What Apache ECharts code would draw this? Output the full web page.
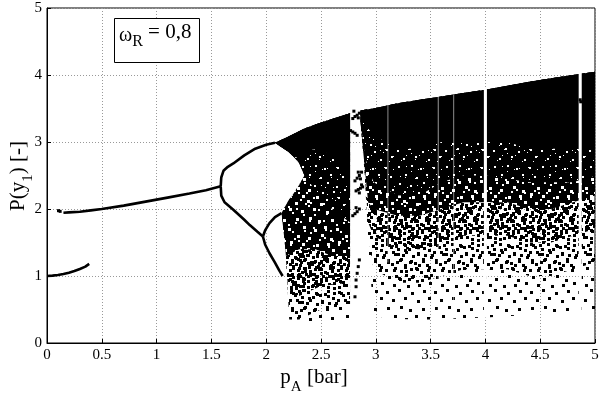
<!DOCTYPE html>
<html>
<head>
<meta charset="utf-8">
<script src="https://cdn.jsdelivr.net/npm/echarts@6/dist/echarts.min.js"></script>
<style>html,body{margin:0;padding:0;background:#fff}#c{width:602px;height:395px}</style>
</head>
<body>
<div id="c"></div>
<script>
// ---------- data ----------
const xTicks = [0, 0.5, 1, 1.5, 2, 2.5, 3, 3.5, 4, 4.5, 5];
const yTicks = [0, 1, 2, 3, 4, 5];

// period-1 branches
const period1Lower = [[0,1.0],[0.05,1.005],[0.1,1.015],[0.15,1.03],[0.2,1.05],[0.25,1.075],[0.3,1.105],[0.35,1.14],[0.385,1.18]];
const period1Upper = [[0.15,1.945],[0.2,1.95],[0.3,1.96],[0.4,1.98],[0.5,2.0],[0.7,2.05],[0.9,2.11],[1.1,2.17],[1.3,2.23],[1.45,2.28],[1.585,2.34]];
const isolatedPts = [[0.105,1.975],[0.12,1.965]];
// period-2 and period-4 branches
const period2Upper = [[1.585,2.34],[1.59,2.47],[1.61,2.57],[1.65,2.63],[1.7,2.68],[1.8,2.8],[1.9,2.9],[2.0,2.96],[2.08,2.99]];
const period2Lower = [[1.585,2.34],[1.59,2.2],[1.62,2.1],[1.7,1.99],[1.8,1.84],[1.85,1.76],[1.92,1.66],[1.97,1.59]];
const period4Upper = [[1.97,1.59],[1.99,1.68],[2.03,1.79],[2.08,1.88],[2.14,1.94]];
const period4Lower = [[1.97,1.59],[1.99,1.47],[2.03,1.34],[2.08,1.2],[2.12,1.08],[2.15,1.0]];

// chaotic region A (p 2.08 .. 2.765): outlines of density levels
const chaosA_sparse = [[2.08,2.99],[2.2,3.08],[2.35,3.2],[2.5,3.29],[2.65,3.37],[2.765,3.43],[2.765,0.3],[2.5,0.3],[2.22,0.3],[2.19,0.99],[2.17,1.49],[2.14,1.94],[2.2,2.12],[2.25,2.23],[2.3,2.36],[2.35,2.5],[2.3,2.69],[2.25,2.78],[2.2,2.86],[2.14,2.92]];
const chaosA_medium = [[2.08,2.99],[2.2,3.08],[2.35,3.2],[2.5,3.29],[2.65,3.37],[2.765,3.43],[2.765,0.55],[2.5,0.5],[2.3,0.35],[2.21,0.35],[2.19,0.99],[2.17,1.49],[2.14,1.94],[2.2,2.12],[2.25,2.23],[2.3,2.36],[2.35,2.5],[2.3,2.69],[2.25,2.78],[2.2,2.86],[2.14,2.92]];
const chaosA_mid    = [[2.08,2.99],[2.2,3.08],[2.35,3.2],[2.5,3.29],[2.65,3.37],[2.765,3.43],[2.765,0.9],[2.5,0.85],[2.3,0.7],[2.2,0.8],[2.17,1.49],[2.14,1.94],[2.2,2.12],[2.25,2.23],[2.3,2.36],[2.35,2.5],[2.3,2.69],[2.25,2.78],[2.2,2.86],[2.14,2.92]];
const chaosA_heavy  = [[2.08,2.99],[2.2,3.08],[2.35,3.2],[2.5,3.29],[2.65,3.37],[2.765,3.43],[2.765,1.3],[2.6,1.3],[2.45,1.4],[2.3,1.4],[2.18,1.3],[2.17,1.49],[2.14,1.94],[2.2,2.12],[2.25,2.23],[2.3,2.36],[2.35,2.5],[2.3,2.69],[2.25,2.78],[2.2,2.86],[2.14,2.92]];
const chaosA_speck  = [[2.08,2.99],[2.2,3.08],[2.35,3.2],[2.5,3.29],[2.65,3.37],[2.765,3.43],[2.765,1.8],[2.6,2.0],[2.45,2.25],[2.38,2.45],[2.35,2.5],[2.3,2.69],[2.25,2.78],[2.2,2.86],[2.14,2.92]];
const chaosA_solid  = [[2.08,2.99],[2.2,3.08],[2.35,3.2],[2.5,3.29],[2.65,3.37],[2.765,3.43],[2.765,2.5],[2.65,2.7],[2.5,2.9],[2.4,2.88],[2.3,2.76],[2.25,2.78],[2.2,2.86],[2.14,2.92]];

// chaotic region B (p 2.86 .. 5): envelopes of density levels
const pB      = [2.86, 2.9, 2.93, 2.98, 3.2, 3.4, 3.6, 3.8, 4.0, 4.2, 4.4, 4.6, 4.8, 5.0];
const topB    = [3.47, 3.48, 3.49, 3.5, 3.58, 3.63, 3.68, 3.73, 3.78, 3.84, 3.9, 3.95, 4.0, 4.05];
const solidB  = [3.4, 3.3, 3.2, 3.1, 2.9, 2.9, 3.0, 3.0, 3.0, 3.0, 2.9, 2.9, 2.9, 2.9];
const speckB  = [3.3, 2.8, 2.6, 2.4, 2.2, 2.2, 2.4, 2.5, 2.5, 2.45, 2.4, 2.4, 2.4, 2.5];
const heavyB  = [3.3, 2.6, 2.1, 2.0, 1.9, 1.9, 2.0, 2.1, 2.1, 2.1, 2.0, 2.0, 2.1, 2.2];
const midB    = [3.3, 2.5, 1.8, 1.6, 1.4, 1.4, 1.5, 1.6, 1.6, 1.6, 1.5, 1.5, 1.6, 1.7];
const mediumB = [3.3, 2.5, 1.6, 1.1, 0.9, 0.9, 1.0, 1.1, 1.1, 1.1, 1.0, 1.0, 1.1, 1.2];
const bottomB = [3.3, 2.5, 1.5, 0.4, 0.36, 0.35, 0.35, 0.37, 0.38, 0.4, 0.42, 0.45, 0.48, 0.5];

// periodic windows inside region B
const windowP   = [3.11, 3.57, 3.71, 4.0, 4.865];
const windowTop = [3.56, 3.67, 3.71, 3.80, 4.03];
const windowBot = [1.2, 0.35, 0.35, 0.38, 0.48];
const windowW   = [0.008, 0.01, 0.008, 0.028, 0.028];
const windowStrong = [false, false, false, true, true];

// periodic orbit points inside the window p 2.77 .. 2.9
const windowPts = [
  [2.79,3.35],[2.81,3.38],[2.83,3.40],[2.85,3.43],[2.80,3.46],[2.84,3.36],
  [2.77,3.17],[2.79,3.15],[2.81,3.13],[2.83,3.10],
  [2.81,2.42],[2.83,2.46],[2.85,2.50],[2.87,2.55],[2.84,2.55],[2.86,2.45],
  [2.82,2.27],[2.84,2.29],[2.86,2.31],[2.88,2.33],[2.85,2.24],[2.87,2.36],
  [2.79,1.90],[2.81,1.93],[2.83,1.96],[2.85,2.0],[2.82,2.02],
  [2.85,1.24],[2.84,1.14],[2.83,1.04],[2.82,0.94],[2.82,0.84],[2.81,0.69],
  [4.865,3.63],[4.87,3.6]
];

// ---------- textures (style only, fixed hand-placed dot layouts) ----------
const T = 48;
const dotsA = [[2,3],[14,1],[27,4],[39,2],[8,11],[20,9],[33,12],[44,9],[3,19],[16,18],[25,21],[38,20],[10,27],[21,30],[31,27],[43,29],[4,36],[15,38],[28,35],[37,39],[9,44],[23,45],[34,44],[45,42]];
const dotsB = [[6,6],[11,4],[19,3],[24,8],[31,6],[36,5],[45,4],[1,11],[13,13],[18,14],[28,15],[40,14],[46,16],[7,23],[12,21],[20,24],[30,22],[34,24],[42,24],[1,29],[16,30],[26,28],[36,31],[46,34],[6,41],[11,35],[19,40],[24,38],[32,40],[41,35],[2,46],[14,45],[28,44],[39,46],[44,37],[21,34]];
const shift = (list, dx, dy, s) => list.map(d => [(d[0] + dx) % T, (d[1] + dy) % T, s]);
function tile(bg, fg, dots) {
  const c = document.createElement('canvas');
  c.width = T; c.height = T;
  const g = c.getContext('2d');
  if (bg) { g.fillStyle = bg; g.fillRect(0, 0, T, T); }
  g.fillStyle = fg;
  dots.forEach(d => {
    const s = d[2] || 3;
    g.fillRect(d[0], d[1], s, s);
    g.fillRect(d[0] - T, d[1], s, s); g.fillRect(d[0], d[1] - T, s, s); g.fillRect(d[0] - T, d[1] - T, s, s);
  });
  return c;
}
const sparseTile = tile(null, '#000', dotsA);
const mediumTile = tile(null, '#000', dotsB.concat(shift(dotsA, 24, 17)));
const midTile    = tile(null, '#000', shift(dotsB, 13, 29).concat(shift(dotsA, 7, 31)).concat(shift(dotsB, 31, 9)));
const heavyTile  = tile('#000', '#fff', shift(dotsA, 5, 7).concat(shift(dotsB, 24, 24, 2)));
const speckTile  = tile('#000', '#fff', shift(dotsA, 11, 3, 2).concat(shift(dotsB, 3, 19, 1)));
const fills = {
  sparse: { image: sparseTile, repeat: 'repeat' },
  medium: { image: mediumTile, repeat: 'repeat' },
  mid:    { image: midTile,    repeat: 'repeat' },
  heavy:  { image: heavyTile,  repeat: 'repeat' },
  speck:  { image: speckTile,  repeat: 'repeat' },
  solid: '#000'
};

function band(p, lo, hi) {
  const up = p.map((x, i) => [x, hi[i]]);
  const dn = p.map((x, i) => [x, lo[i]]).reverse();
  return up.concat(dn);
}
const polys = [
  { pts: chaosA_sparse, fill: 'sparse' }, { pts: band(pB, bottomB, topB), fill: 'sparse' },
  { pts: chaosA_medium, fill: 'medium' }, { pts: band(pB, mediumB, topB), fill: 'medium' },
  { pts: chaosA_mid,    fill: 'mid'    }, { pts: band(pB, midB, topB),    fill: 'mid'    },
  { pts: chaosA_heavy,  fill: 'heavy'  }, { pts: band(pB, heavyB, topB),  fill: 'heavy'  },
  { pts: chaosA_speck,  fill: 'speck'  }, { pts: band(pB, speckB, topB),  fill: 'speck'  },
  { pts: chaosA_solid,  fill: 'solid'  }, { pts: band(pB, solidB, topB),  fill: 'solid'  }
];
const windows = windowP.map((p, i) => [p, windowTop[i], windowBot[i], windowW[i], windowStrong[i] ? 1 : 0]);

const FONT = 'Liberation Serif';
const chart = echarts.init(document.getElementById('c'), null, { renderer: 'canvas' });

const lineSeries = (d) => ({
  type: 'line', data: d, showSymbol: false, z: 5, silent: true,
  lineStyle: { color: '#000', width: 2.6 }
});
const nameRich = {
  m: { fontFamily: FONT, fontSize: 21, fill: '#000', color: '#000', lineHeight: 22, verticalAlign: 'top' },
  s: { fontFamily: FONT, fontSize: 15, fill: '#000', color: '#000', lineHeight: 40, verticalAlign: 'middle' }
};

chart.setOption({
  animation: false,
  backgroundColor: '#fff',
  grid: { left: 47, right: 7, top: 8, bottom: 52, containLabel: false, outerBoundsMode: 'none',
          show: true, borderColor: '#000', borderWidth: 1, backgroundColor: 'transparent' },
  xAxis: {
    type: 'value', min: 0, max: 5, interval: 0.5,
    name: '{m|p}{s|A}{m| [bar]}', nameLocation: 'middle', nameGap: 24, nameMoveOverlap: false,
    nameTextStyle: { padding: [0, 14, 0, 0], rich: nameRich },
    axisLine: { onZero: false, lineStyle: { color: '#000', width: 1 } },
    axisTick: { inside: true, length: 4, lineStyle: { color: '#000' } },
    axisLabel: { fontFamily: FONT, fontSize: 15, color: '#000', margin: 5, formatter: v => String(v) },
    splitLine: { show: true, lineStyle: { color: '#999', type: [1, 2], width: 1 } }
  },
  yAxis: {
    type: 'value', min: 0, max: 5, interval: 1,
    axisLine: { lineStyle: { color: '#000', width: 1 } },
    axisTick: { inside: true, length: 4, lineStyle: { color: '#000' } },
    axisLabel: { fontFamily: FONT, fontSize: 15, color: '#000', margin: 5 },
    splitLine: { show: true, lineStyle: { color: '#999', type: [1, 2], width: 1 } }
  },
  graphic: [
    { type: 'text', x: 28, y: 176, rotation: Math.PI / 2, z: 100,
      style: { text: '{m|P(y}{s|1}{m|) [-]}', rich: nameRich, align: 'center', verticalAlign: 'middle' } },
    { type: 'rect', left: 114, top: 18, z: 100, shape: { width: 85, height: 44 }, style: { fill: '#fff', stroke: '#000', lineWidth: 1 } },
    { type: 'text', left: 119, top: 22, z: 101,
      style: { text: '{w|ω}{s|R}{t| = 0,8}', rich: {
        w: { fontFamily: FONT, fontSize: 20, fill: '#000', lineHeight: 24, verticalAlign: 'top', padding: [4, 0, 0, 0] },
        s: { fontFamily: FONT, fontSize: 16, fill: '#000', lineHeight: 40, verticalAlign: 'middle' },
        t: { fontFamily: FONT, fontSize: 21, fill: '#000', lineHeight: 24, verticalAlign: 'top' }
      } } }
  ],
  series: [
    {
      type: 'custom', coordinateSystem: 'cartesian2d', z: 2, silent: true,
      data: polys.map(p => p.pts[0]),
      encode: { x: 0, y: 1 },
      renderItem: (params, api) => {
        const poly = polys[params.dataIndex];
        return { type: 'polygon', shape: { points: poly.pts.map(pt => api.coord(pt)) }, style: { fill: fills[poly.fill], stroke: null } };
      }
    },
    {
      type: 'custom', coordinateSystem: 'cartesian2d', z: 3, silent: true,
      data: windows,
      encode: { x: 0, y: 1 },
      renderItem: (params, api) => {
        const p = api.value(0), top = api.value(1), bot = api.value(2), w = api.value(3), strong = api.value(4);
        const a = api.coord([p - w / 2, top]);
        const b = api.coord([p + w / 2, bot]);
        return { type: 'rect', shape: { x: a[0], y: a[1], width: Math.max(b[0] - a[0], 1), height: b[1] - a[1] },
                 style: { fill: '#fff', opacity: strong ? 1 : 0.55 } };
      }
    },
    lineSeries(period1Lower), lineSeries(period1Upper),
    lineSeries(period2Upper), lineSeries(period2Lower),
    lineSeries(period4Upper), lineSeries(period4Lower),
    { type: 'scatter', data: isolatedPts.concat(windowPts), symbol: 'rect', symbolSize: 3, z: 6, silent: true,
      itemStyle: { color: '#000', opacity: 1 } }
  ]
});
</script>
</body>
</html>
